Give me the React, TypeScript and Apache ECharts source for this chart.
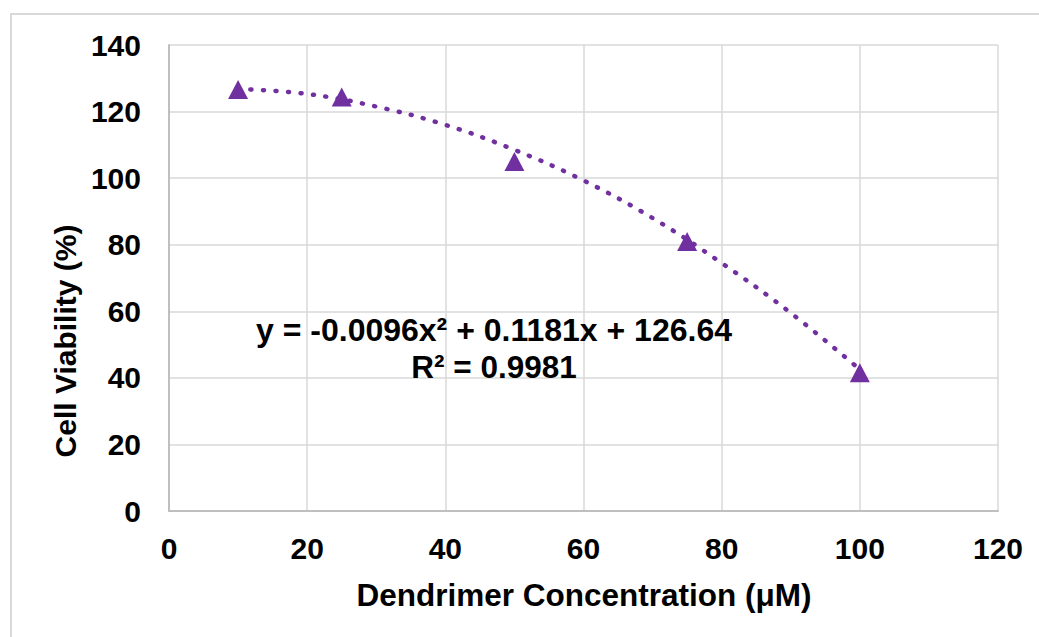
import React, { useEffect, useRef } from "react";
import * as echarts from "echarts";

// Measured data points (Dendrimer concentration µM, cell viability %)
const concentrations = [10, 25, 50, 75, 100];
const viability = [126.6, 124.4, 105, 81, 41.5];

// Polynomial trendline
const trendX = [10, 20, 30, 40, 50, 60, 70, 80, 90, 100];
const trendY = [126.8, 125.3, 121.5, 116, 108.5, 99.3, 88, 74.5, 59.5, 42.5];

const xTicks = { min: 0, max: 120, interval: 20 };
const yTicks = { min: 0, max: 140, interval: 20 };

const xTitle = "Dendrimer Concentration (μM)";
const yTitle = "Cell Viability (%)";
const equationLine = "y = -0.0096x² + 0.1181x + 126.64";
const r2Line = "R² = 0.9981";

const PURPLE = "#7030A0";
const FONT = "'Liberation Sans', Arial, sans-serif";

export default function App() {
  const ref = useRef<HTMLDivElement>(null);

  useEffect(() => {
    if (!ref.current) return;
    const chart = echarts.init(ref.current, null, { renderer: "svg" });
    const axisCommon = {
      type: "value" as const,
      axisLine: { show: true, lineStyle: { color: "#bfbfbf", width: 2 } },
      axisTick: { show: false },
      splitLine: { show: true, lineStyle: { color: "#d9d9d9", width: 1.5 } },
    };
    chart.setOption({
      animation: false,
      backgroundColor: "#ffffff",
      grid: { left: 169, top: 45, width: 829, height: 466, containLabel: false },
      xAxis: {
        ...axisCommon,
        ...xTicks,
        axisLabel: {
          fontFamily: FONT,
          fontSize: 30,
          fontWeight: "bold",
          color: "#000",
          margin: 22,
        },
      },
      yAxis: {
        ...axisCommon,
        ...yTicks,
        axisLabel: {
          fontFamily: FONT,
          fontSize: 30,
          fontWeight: "bold",
          color: "#000",
          margin: 28,
        },
      },
      series: [
        {
          type: "line",
          data: trendX.map((x, i) => [x, trendY[i]]),
          smooth: 0.4,
          showSymbol: false,
          silent: true,
          lineStyle: { color: PURPLE, width: 4.5, type: [1, 11.5], cap: "round" },
          z: 2,
        },
        {
          type: "scatter",
          data: concentrations.map((x, i) => [x, viability[i]]),
          symbol: "triangle",
          symbolSize: [20, 19],
          itemStyle: { color: PURPLE, opacity: 1 },
          z: 3,
        },
      ],
      graphic: [
        {
          type: "rect",
          shape: { x: 11, y: 14, width: 1040, height: 640 },
          style: { fill: "none", stroke: "#d9d9d9", lineWidth: 2 },
          silent: true,
          z: -1,
        },
        {
          type: "text",
          x: 65,
          y: 341,
          rotation: Math.PI / 2,
          style: {
            text: yTitle,
            font: `bold 30px ${FONT}`,
            fill: "#000",
            align: "center",
            verticalAlign: "middle",
          },
        },
        {
          type: "text",
          x: 584,
          y: 595,
          style: {
            text: xTitle,
            font: `bold 31.5px ${FONT}`,
            fill: "#000",
            align: "center",
            verticalAlign: "middle",
          },
        },
        {
          type: "text",
          x: 494,
          y: 330,
          style: {
            text: equationLine,
            font: `bold 32px ${FONT}`,
            fill: "#000",
            align: "center",
            verticalAlign: "middle",
          },
          z: 10,
        },
        {
          type: "text",
          x: 494,
          y: 367,
          style: {
            text: r2Line,
            font: `bold 31.5px ${FONT}`,
            fill: "#000",
            align: "center",
            verticalAlign: "middle",
          },
          z: 10,
        },
      ],
    });
    return () => chart.dispose();
  }, []);

  return (
    <div
      ref={ref}
      style={{ position: "fixed", left: 0, top: 0, width: 1039, height: 637, background: "#fff" }}
    />
  );
}
